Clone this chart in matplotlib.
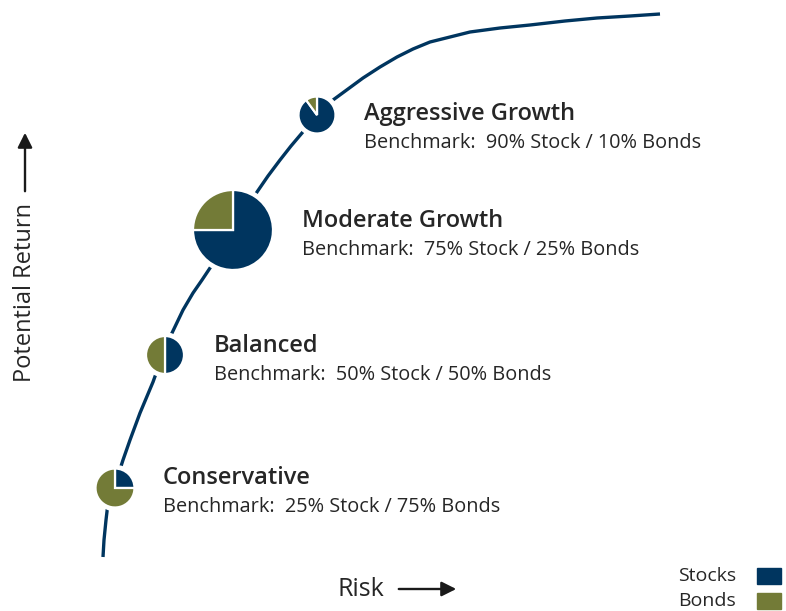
import numpy as np
import matplotlib.pyplot as plt

# colours
NAVY = '#00355f'
OLIVE = '#737b37'
TEXT = '#262626'

# efficient-frontier curve (x = risk, y = return, px units)
risk = [103, 104, 106, 108, 115, 123, 130, 140, 153, 162, 172, 183, 193, 202,
        210, 233, 257, 268, 280, 291, 302, 317, 333, 348, 363, 380, 397, 413,
        430, 450, 470, 500, 530, 565, 597, 630, 660]
ret = [557, 540, 520, 503, 485, 460, 440, 413, 382, 357, 333, 310, 293, 280,
       268, 232, 192, 176, 160, 146, 133, 115, 100, 89, 78, 67, 57, 49,
       42, 37, 32, 28, 25, 21, 18, 16, 14]

# portfolios
names = ['Conservative', 'Balanced', 'Moderate Growth', 'Aggressive Growth']
stock_pct = [25, 50, 75, 90]
bond_pct = [75, 50, 25, 10]
pie_x = [115, 165, 233, 317]
pie_y = [488, 355, 230, 115]
pie_r = [19.5, 19, 40, 18.5]
label_x = [163, 214, 302, 364]
label_y = [478, 346, 221, 114]

W, H = 786, 611
fig = plt.figure(figsize=(W / 100, H / 100), dpi=100)
ax = fig.add_axes([0, 0, 1, 1])

ax.plot(risk, [H - v for v in ret], color=NAVY, lw=2.4, solid_capstyle='butt',
        solid_joinstyle='round', zorder=1)

for i in range(len(names)):
    cx, cy, r = pie_x[i], H - pie_y[i], pie_r[i]
    ax.add_patch(plt.Circle((cx, cy), r + 3, color='white', zorder=2))
    wedges, _ = ax.pie([stock_pct[i], bond_pct[i]], colors=[NAVY, OLIVE],
                       center=(cx, cy), radius=r, startangle=90, counterclock=False,
                       frame=True, wedgeprops=dict(edgecolor='white', linewidth=1.6))
    for w in wedges:
        w.set_zorder(3)
    ax.text(label_x[i], H - label_y[i], names[i], fontsize=17, fontweight='semibold',
            color=TEXT, va='center', ha='left', family='Open Sans')
    ax.text(label_x[i], H - label_y[i] - 29,
            'Benchmark:  %d%% Stock / %d%% Bonds' % (stock_pct[i], bond_pct[i]),
            fontsize=14.3, color=TEXT, va='center', ha='left', family='Open Sans')

# axis labels with arrows
ax.text(25, H - 293, 'Potential Return', rotation=90, fontsize=17, color=TEXT,
        fontweight='medium', va='center', ha='center', family='Open Sans')
ax.annotate('', xy=(25, H - 130), xytext=(25, H - 194),
            arrowprops=dict(arrowstyle='-|>', color='#1a1a1a', lw=1.7, mutation_scale=22))
ax.text(361, H - 589, 'Risk', fontsize=18, color=TEXT, fontweight='medium',
        va='center', ha='center', family='Open Sans')
ax.annotate('', xy=(459, H - 589), xytext=(396, H - 589),
            arrowprops=dict(arrowstyle='-|>', color='#1a1a1a', lw=1.7, mutation_scale=22))

# legend
legend_names = ['Stocks', 'Bonds']
legend_colors = [NAVY, OLIVE]
legend_y = [576, 601]
for name, c, y in zip(legend_names, legend_colors, legend_y):
    ax.text(736, H - y, name, fontsize=14, color=TEXT, va='center', ha='right',
            family='Open Sans')
    ax.add_patch(plt.Rectangle((757, H - y - 8), 24, 16, color=c))

ax.set_xlim(0, W)
ax.set_ylim(0, H)
ax.set_aspect('auto')
ax.axis('off')

fig.savefig('out.png', dpi=100)
